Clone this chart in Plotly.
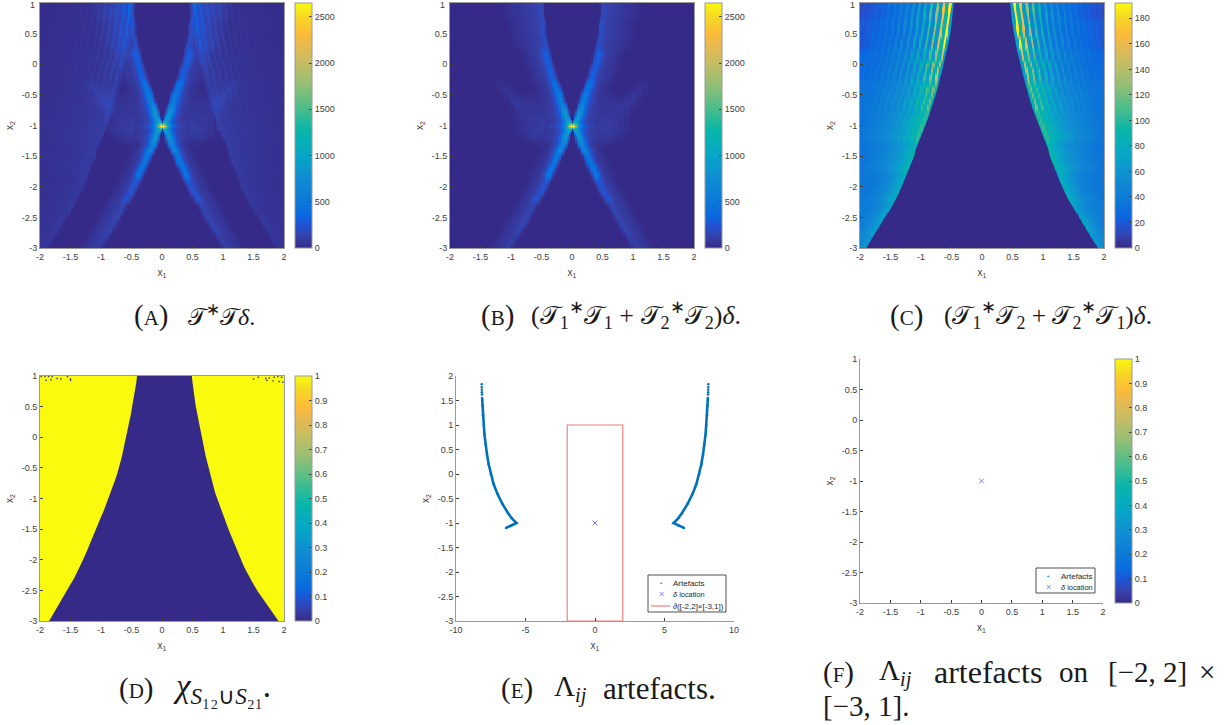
import plotly.graph_objects as go

W, H = 1231, 725
parula = ["#352a87", "#3543ad", "#2053d4", "#0a68e0", "#0d7ad7", "#108ed2", "#06a7c6", "#07b6a9",
          "#4bbd8b", "#96bf75", "#c8bd62", "#e9b94f", "#fcbc38", "#f6d625", "#f9fa0e"]
par_pos = [0, .05, .095, .13, .2, .29, .38, .48, .57, .67, .76, .83, .875, .94, 1]
colorscale = [[p, c] for p, c in zip(par_pos, parula)]
DARK, YELLOW = parula[0], parula[-1]

CELL = 0.0125
MID = 160
x_fine = [i * CELL - 2 for i in range(2 * MID + 1)]

# Panel B: rows, inner edge of the bright band per row, then band values outward from that edge (0.025 apart)
y_ab = [1, .9, .8, .7, .6, .5, .4, .3, .2, .1, 0, -.1, -.2, -.3, -.4, -.5, -.6, -.7, -.8, -.85, -.9, -.95, -1, -1.05,
        -1.1, -1.15, -1.2, -1.3, -1.4, -1.5, -1.6, -1.7, -1.8, -1.9, -2, -2.1, -2.2, -2.3, -2.4, -2.5, -2.6, -2.7,
        -2.8, -2.9, -3]
b_edge = [.45, .45, .45, .44, .43, .42, .40, .38, .36, .34, .31, .28, .25, .21, .18, .14, .11, .08, .05, .035, .02,
          .01, 0, .01, .02, .035, .05, .08, .12, .17, .21, .26, .31, .35, .40, .45, .51, .57, .62, .68, .74, .80, .86,
          .92, .98]
b_keys = [1, .5, 0, -.4, -.55, -.7, -.85, -.9, -.95, -1, -1.05, -1.1, -1.15, -1.3, -1.6, -2, -2.5, -3]
p085 = [300, 650, 850, 820, 650, 470, 330, 240, 180, 140, 115, 100, 90, 80, 75, 70, 60, 40, 20]
p090 = [500, 850, 900, 750, 560, 410, 300, 220, 170, 135, 110, 95, 85, 80, 75, 70, 60, 40, 20]
p095 = [1200, 1150, 1000, 780, 580, 430, 320, 240, 185, 145, 120, 100, 90, 85, 80, 75, 65, 45, 20]
b_bands = [
    [20, 130, 210, 150, 170, 120, 130, 110, 110, 100, 100, 90, 90, 80, 80, 70, 70, 60, 60, 55, 50, 50, 40, 35, 30, 25,
     15, 8],
    [60, 180, 220, 170, 130, 120, 110, 110, 100, 100, 90, 85, 80, 75, 70, 60, 55, 50, 45, 40, 35, 30, 25, 15, 8],
    [100, 230, 280, 300, 290, 240, 170, 130, 110, 95, 85, 80, 75, 65, 55, 45, 35, 25, 15, 8],
    [120, 330, 420, 450, 400, 300, 210, 150, 115, 95, 80, 70, 60, 50, 40, 30, 22, 15, 8],
    [150, 400, 520, 540, 480, 370, 260, 190, 140, 115, 95, 80, 70, 60, 55, 50, 40, 30, 20, 10],
    [200, 520, 680, 700, 600, 440, 300, 210, 160, 125, 105, 95, 85, 75, 70, 65, 60, 50, 30, 15],
    p085, p090, p095,
    [2650, 2300, 1700, 1200, 850, 620, 470, 370, 300, 240, 200, 170, 150, 130, 115, 100, 90, 70, 40, 15],
    p095, p090, p085,
    [150, 450, 640, 680, 600, 430, 290, 190, 130, 100, 80, 60, 45, 30, 18, 8],
    [120, 330, 470, 500, 450, 320, 200, 130, 100, 80, 65, 55, 45, 35, 25, 15, 8],
    [70, 190, 250, 260, 230, 180, 130, 105, 90, 80, 72, 65, 55, 40, 25, 12],
    [40, 110, 150, 150, 135, 115, 100, 90, 80, 72, 65, 60, 50, 35, 18, 6],
    [25, 80, 115, 115, 100, 90, 82, 75, 68, 62, 58, 52, 42, 28, 12],
]
# faint fan around the focus, |x| columns by x2 rows
fan_x = [.5, .6, .7, .8, .9, 1, 1.1, 1.2, 1.3]
fan_y = [-.3, -.4, -.5, -.6, -.7, -.8, -.9, -1, -1.1, -1.2, -1.3]
fan_z = [
    [0, 0, 0, 0, 0, 0, 10, 35, 10],
    [0, 0, 0, 0, 0, 15, 45, 25, 0],
    [40, 30, 20, 10, 30, 55, 40, 5, 0],
    [55, 50, 40, 40, 65, 55, 10, 0, 0],
    [60, 60, 60, 70, 65, 15, 0, 0, 0],
    [70, 65, 60, 60, 35, 0, 0, 0, 0],
    [90, 80, 70, 50, 20, 0, 0, 0, 0],
    [100, 90, 70, 55, 35, 0, 0, 0, 0],
    [80, 75, 60, 40, 15, 0, 0, 0, 0],
    [60, 55, 40, 15, 0, 0, 0, 0, 0],
    [30, 15, 5, 0, 0, 0, 0, 0, 0],
]

y_fine = [1, .9, .8, .7, .6, .5, .4, .3, .2, .1, 0, -.1, -.2, -.3, -.4, -.5, -.6, -.7, -.8, -.9, -1, -1.1, -1.2,
          -1.3, -1.4, -1.5, -1.6, -1.7, -1.8, -1.9, -2, -2.1, -2.2, -2.3, -2.4, -2.5, -2.6, -2.7, -2.8, -2.9, -3]

# Panel C: inner edge of the support per row; low/high fringe values outward from it, per 0.5 band of x2
c_edge = [.46, .47, .48, .49, .50, .52, .54, .56, .58, .60, .63, .65, .68, .70, .73, .76, .79, .82, .85, .89, .93,
          .97, 1.01, 1.05, 1.09, 1.11, 1.15, 1.19, 1.23, 1.27, 1.31, 1.36, 1.41, 1.46, 1.52, 1.59, 1.65, 1.71, 1.77,
          1.83, 1.90]
c_keys = [1, .5, 0, -.5, -1, -1.5, -2, -2.5, -3]
c_fringes = [
    [60, 190, 90, 170, 60, 130, 50, 110, 45, 90, 40, 72, 36, 60, 33, 50, 30, 42, 28, 36, 25, 30, 22, 26, 20, 22, 18,
     20, 16, 18, 14, 15],
    [70, 190, 90, 160, 60, 130, 50, 105, 45, 85, 40, 70, 36, 58, 33, 50, 31, 44, 29, 38, 27, 33, 25, 29, 23, 26, 21,
     23, 19, 21],
    [60, 150, 80, 130, 65, 110, 58, 92, 50, 78, 45, 66, 41, 56, 38, 50, 36, 44, 33, 39, 31, 35, 29, 32, 27, 29, 25],
    [80, 125, 85, 110, 75, 95, 65, 80, 58, 70, 52, 60, 48, 55, 44, 50, 40, 45, 38, 40, 35, 35, 33],
    [95, 105, 85, 90, 75, 80, 65, 70, 60, 62, 55, 55, 50, 50, 45, 45, 42, 40, 38, 36, 35, 33],
    [90, 85, 75, 72, 65, 62, 58, 55, 52, 50, 46, 44, 42, 40, 38, 36, 34],
    [80, 75, 68, 62, 58, 52, 48, 45, 42, 40, 38, 36],
    [70, 68, 60, 55, 50, 46, 42, 40],
    [65, 60, 55, 50],
]

# Panel D: left and right edges of the dark region per row
d_left = [.41, .42, .44, .46, .475, .49, .505, .525, .545, .565, .585, .605, .63, .655, .68, .705, .735, .77, .805,
          .84, .875, .915, .955, 1.0, 1.04, 1.08, 1.125, 1.17, 1.21, 1.25, 1.295, 1.34, 1.39, 1.44, 1.50, 1.56, 1.62,
          1.68, 1.73, 1.79, 1.85]
d_right = [.49, .50, .51, .525, .54, .555, .575, .595, .61, .63, .645, .67, .69, .715, .74, .765, .79, .815, .84,
           .87, .905, .94, .98, 1.02, 1.055, 1.09, 1.13, 1.17, 1.21, 1.25, 1.295, 1.34, 1.39, 1.44, 1.50, 1.56, 1.63,
           1.70, 1.77, 1.84, 1.91]
d_speck_x = [-1.98, -1.92, -1.86, -1.8, -1.72, -1.66, -1.55, -1.5, -1.9, -1.82, -1.5, 1.5, 1.58, 1.7, 1.76, 1.84, 1.9,
             1.96, 1.98, 1.72, 1.82, 1.92]
d_speck_y = [.99, .99, .99, .99, .96, .95, .99, .95, .93, .94, .93, .95, .98, .96, .97, .98, .99, .98, .9, .93, .92,
             .91]

# Panels E and F
art_y = [1.83, 1.77, 1.72, 1.67, 1.62, 1.55, 1.4, 1.2, 1, .8, .6, .4, .2, 0, -.2, -.4, -.6, -.8, -.9, -1, -1.05, -1.1]
art_x = [8.15, 8.15, 8.14, 8.14, 8.13, 8.12, 8.1, 8.06, 8.0, 7.95, 7.87, 7.77, 7.65, 7.5, 7.3, 7.03, 6.68, 6.25, 6.0,
         5.65, 6.0, 6.4]
delta_x, delta_y = [0], [-1]
box_x = [-2, 2, 2, -2, -2]
box_y = [-3, -3, 1, 1, -3]

ticks_x = [-2, -1.5, -1, -.5, 0, .5, 1, 1.5, 2]
ticks_y = [-3, -2.5, -2, -1.5, -1, -.5, 0, .5, 1]
ticks_y_e = [-3, -2.5, -2, -1.5, -1, -.5, 0, .5, 1, 1.5, 2]
ticks_x_e = [-10, -5, 0, 5, 10]
cb_a = [0, 500, 1000, 1500, 2000, 2500]
cb_c = [0, 20, 40, 60, 80, 100, 120, 140, 160, 180]
cb_d = [0, .1, .2, .3, .4, .5, .6, .7, .8, .9, 1]


def lab(v):
    return f"{v:g}"


def nearest(keys, y):
    return min(range(len(keys)), key=lambda i: abs(keys[i] - y))


def c_row(y):
    i = nearest(y_fine, y)
    prof = c_fringes[nearest(c_keys, y_fine[i])]
    row = [0] * (2 * MID + 1)
    start = int(c_edge[i] / CELL)
    for k in range(0, MID + 1 - start):
        idx = min(k // 4, len(prof) - 1)
        # a high fringe value fills three cells of its block, the first keeps the preceding low value
        v = prof[idx] if (idx % 2 == 0 or k % 4 != 0) else prof[idx - 1]
        row[MID + start + k] = v
        row[MID - start - k] = v
    return row


def b_row(y, e):
    prof = b_bands[nearest(b_keys, y)]
    row = [0] * (2 * MID + 1)
    start = round(e / CELL)
    for k in range(2 * len(prof)):
        if start + k <= MID:
            v = prof[k // 2]
            row[MID + start + k] = v
            row[MID - start - k] = v
    if -1.35 < y < -.25:
        fz = fan_z[nearest(fan_y, y)]
        for c, v in zip(fan_x, fz):
            for n in range(round((c - .05) / CELL), round((c + .05) / CELL)):
                row[MID + n] = max(row[MID + n], v)
                row[MID - n] = max(row[MID - n], v)
    return row


z_b = [b_row(y, e) for y, e in zip(y_ab, b_edge)]
# The full operator in panel A is the sum of the diagonal part (B) and the cross part (C)
z_a = [[p + q for p, q in zip(r, c_row(y))] for r, y in zip(z_b, y_ab)]
z_c = [c_row(y) for y in y_fine]

TXT = "#404040"
FONT = dict(family="Liberation Sans, Arial", size=9, color=TXT)
TITLE_FONT = dict(family="Liberation Sans, Arial", size=10, color=TXT)
AXC = "#9a9a9a"


def px(a, b):
    return [a / W, b / W]


def py(top, bottom):
    return [1 - bottom / H, 1 - top / H]


panels = {
    "": (40, 284, 3, 248, 295),
    "2": (450, 694, 3, 248, 705),
    "3": (860, 1104, 3, 248, 1115),
    "4": (40, 284, 376, 621, 295),
    "5": (456, 734, 376, 621, None),
    "6": (860, 1103, 359, 603, 1115),
}

layout = dict(width=W, height=H, margin=dict(l=0, r=0, t=0, b=0), autosize=False, paper_bgcolor="white",
              plot_bgcolor="white", font=FONT, showlegend=False)


def axes(s, x_vals, y_vals, xr, yr, box=True, y_stand=6):
    l, r, t, b, _ = panels[s]
    common = dict(showgrid=False, zeroline=False, ticks="inside", ticklen=3, tickcolor="#404040", tickwidth=1,
                  linecolor=AXC, linewidth=1, mirror=box, showline=True, tickfont=FONT, automargin=False)
    layout["xaxis" + s] = dict(common, domain=px(l, r), range=xr, tickmode="array", tickvals=x_vals,
                               ticktext=[lab(v) for v in x_vals], anchor="y" + s,
                               title=dict(text="x<sub>1</sub>", font=TITLE_FONT, standoff=8))
    layout["yaxis" + s] = dict(common, domain=py(t, b), range=yr, tickmode="array", tickvals=y_vals,
                               ticktext=[lab(v) for v in y_vals], anchor="x" + s,
                               title=dict(text="x<sub>2</sub>", font=TITLE_FONT, standoff=y_stand))


def cbar(s, vals):
    l, r, t, b, c = panels[s]
    return dict(x=c / W, xanchor="left", y=1 - b / H, yanchor="bottom", len=(b - t) / H, lenmode="fraction",
                thickness=17, thicknessmode="pixels", xpad=0, ypad=0, outlinecolor=AXC, outlinewidth=1,
                ticks="inside", ticklen=3, tickcolor="#404040", tickmode="array", tickvals=vals,
                ticktext=[lab(v) for v in vals], tickfont=FONT)


axes("", ticks_x, ticks_y, [-2, 2], [-3, 1])
axes("2", ticks_x, ticks_y, [-2, 2], [-3, 1])
axes("3", ticks_x, ticks_y, [-2, 2], [-3, 1])
axes("4", ticks_x, ticks_y, [-2, 2], [-3, 1])
axes("5", ticks_x_e, ticks_y_e, [-10, 10], [-3, 2], box=False)
axes("6", ticks_x, ticks_y, [-2, 2], [-3, 1], box=False)

traces = [
    go.Heatmap(x=x_fine, y=y_ab[::-1], z=z_a[::-1], zmin=0, zmax=2650, zsmooth="best", colorscale=colorscale,
               xaxis="x", yaxis="y", colorbar=cbar("", cb_a)),
    go.Heatmap(x=x_fine, y=y_ab[::-1], z=z_b[::-1], zmin=0, zmax=2650, zsmooth="best", colorscale=colorscale,
               xaxis="x2", yaxis="y2", colorbar=cbar("2", cb_a)),
    go.Heatmap(x=x_fine, y=y_fine[::-1], z=z_c[::-1], zmin=0, zmax=192, zsmooth="best", colorscale=colorscale,
               xaxis="x3", yaxis="y3", colorbar=cbar("3", cb_c)),
    # the dark centre of C, whose edge is the read edge list
    go.Scatter(x=[-e for e in c_edge] + c_edge[::-1], y=y_fine + y_fine[::-1], mode="lines", fill="toself",
               fillcolor=DARK, line=dict(width=0, color=DARK), xaxis="x3", yaxis="y3", hoverinfo="skip"),
    go.Heatmap(x=[-2, 2], y=[-3, 1], z=[[0, 0], [0, 0]], zmin=0, zmax=1, colorscale=colorscale,
               xaxis="x4", yaxis="y4", colorbar=cbar("4", cb_d)),
    go.Scatter(x=[-2] + [-v for v in d_left] + [-2, -2], y=[1] + y_fine + [-3, 1], mode="lines", fill="toself",
               fillcolor=YELLOW, line=dict(width=0, color=YELLOW), xaxis="x4", yaxis="y4", hoverinfo="skip"),
    go.Scatter(x=[2] + d_right + [2, 2], y=[1] + y_fine + [-3, 1], mode="lines", fill="toself",
               fillcolor=YELLOW, line=dict(width=0, color=YELLOW), xaxis="x4", yaxis="y4", hoverinfo="skip"),
    go.Scatter(x=d_speck_x, y=d_speck_y, mode="markers", xaxis="x4", yaxis="y4",
               marker=dict(size=1.4, color=DARK, symbol="square")),
]

BLUE = "#0072bd"
DELTA = "#7f7fff"
RED = "#f27f7f"
line_start = 5
for sign in (-1, 1):
    xs = [sign * v for v in art_x]
    traces.append(go.Scatter(x=xs[line_start:], y=art_y[line_start:], mode="lines", xaxis="x5", yaxis="y5",
                             line=dict(color=BLUE, width=2.6)))
    traces.append(go.Scatter(x=xs, y=art_y, mode="markers", name="Artefacts", xaxis="x5", yaxis="y5",
                             marker=dict(size=2.5, color=BLUE)))
traces.append(go.Scatter(x=box_x, y=box_y, mode="lines", name="∂([-2,2]×[-3,1])", xaxis="x5", yaxis="y5",
                         line=dict(color=RED, width=1.2)))
traces.append(go.Scatter(x=delta_x, y=delta_y, mode="markers", name="δ location", xaxis="x5", yaxis="y5",
                         marker=dict(size=5, color=DELTA, symbol="x-thin", line=dict(width=1, color=DELTA))))
traces.append(go.Scatter(x=delta_x, y=delta_y, mode="markers", name="δ location", xaxis="x6", yaxis="y6",
                         marker=dict(size=5, color=DELTA, symbol="x-thin", line=dict(width=1, color=DELTA))))
traces.append(go.Scatter(x=[0, 0], y=[-1, -1], mode="markers", xaxis="x6", yaxis="y6",
                         marker=dict(size=1, opacity=0, color=[0, 1], cmin=0, cmax=1, colorscale=colorscale,
                                     showscale=True, colorbar=cbar("6", cb_d))))


def note(a, b, t, font, xanchor="left"):
    return dict(x=a / W, y=1 - b / H, xref="paper", yref="paper", xanchor=xanchor, yanchor="middle", text=t,
                showarrow=False, font=font, borderpad=0)


def cap(size):
    return dict(family="Liberation Serif, serif", size=size, color="#1a1a1a")


T = "𝒯"
SC = '<span style="font-size:21px">'
captions = [
    (133, 315, f'({SC}A</span>)', 29), (187, 315, f'{T}<sup>∗</sup>{T}<i>δ</i>.', 24),
    (480, 315, f'({SC}B</span>)', 29),
    (530, 315, f'({T}<sub>1</sub><sup>∗</sup>{T}<sub>1</sub> + {T}<sub>2</sub><sup>∗</sup>{T}<sub>2</sub>)<i>δ</i>.', 26),
    (889, 315, f'({SC}C</span>)', 29),
    (943, 315, f'({T}<sub>1</sub><sup>∗</sup>{T}<sub>2</sub> + {T}<sub>2</sub><sup>∗</sup>{T}<sub>1</sub>)<i>δ</i>.', 25.5),
    (118, 688, f'({SC}D</span>)', 29), (172, 688, '<i>χ</i><sub><i>S</i>₁₂∪<i>S</i>₂₁</sub>.', 33),
    (500, 688, f'({SC}E</span>)', 29), (553, 688, 'Λ<sub><i>ij</i></sub>', 29), (602, 688, 'artefacts.', 31),
    (822, 672, f'({SC}F</span>)', 29), (878, 672, 'Λ<sub><i>ij</i></sub>', 29), (933, 672, 'artefacts', 32),
    (1058, 672, 'on', 29), (1107, 672, '[−2, 2]', 29), (1198, 672, '×', 29),
    (822, 706, '[−3, 1].', 29),
]
annotations = [note(a, b, t, cap(s)) for a, b, t, s in captions]

# tick labels of the top row that sit at the very page edge
for left in (36, 446, 856):
    annotations.append(note(left, 5, lab(ticks_y[-1]), FONT, xanchor="right"))

LEG_FONT = dict(family="Liberation Sans, Arial", size=8, color="#262626")
LEG_FONT_D = dict(family="Liberation Sans, Arial", size=7.4, color="#262626")
KEY_DOT = dict(family="Liberation Sans, Arial", size=6, color=BLUE)
KEY_X = dict(family="Liberation Sans, Arial", size=9, color=DELTA)
annotations += [
    note(672, 583, "Artefacts", LEG_FONT), note(672, 594, "<i>δ</i> location", LEG_FONT_D),
    note(672, 606, "∂([-2,2]×[-3,1])", LEG_FONT),
    note(661, 583, "•", KEY_DOT, "center"), note(661, 594, "×", KEY_X, "center"),
    note(1060, 576, "Artefacts", LEG_FONT), note(1060, 587, "<i>δ</i> location", LEG_FONT_D),
    note(1048, 576, "•", KEY_DOT, "center"), note(1048, 587, "×", KEY_X, "center"),
]
layout["annotations"] = annotations


def rect(a, b, c, d):
    return dict(type="rect", xref="paper", yref="paper", x0=a / W, x1=c / W, y0=1 - d / H, y1=1 - b / H,
                fillcolor="white", line=dict(color="#505050", width=1), layer="above")


layout["shapes"] = [
    rect(648, 575, 726, 612), rect(1036, 568, 1095, 593),
    dict(type="line", xref="paper", yref="paper", x0=651 / W, x1=670 / W, y0=1 - 606 / H, y1=1 - 606 / H,
         line=dict(color=RED, width=1.2), layer="above"),
]

fig = go.Figure(data=traces, layout=layout)
fig.write_html("out.html", post_script="document.body.style.margin='0';", config=dict(displayModeBar=False))
